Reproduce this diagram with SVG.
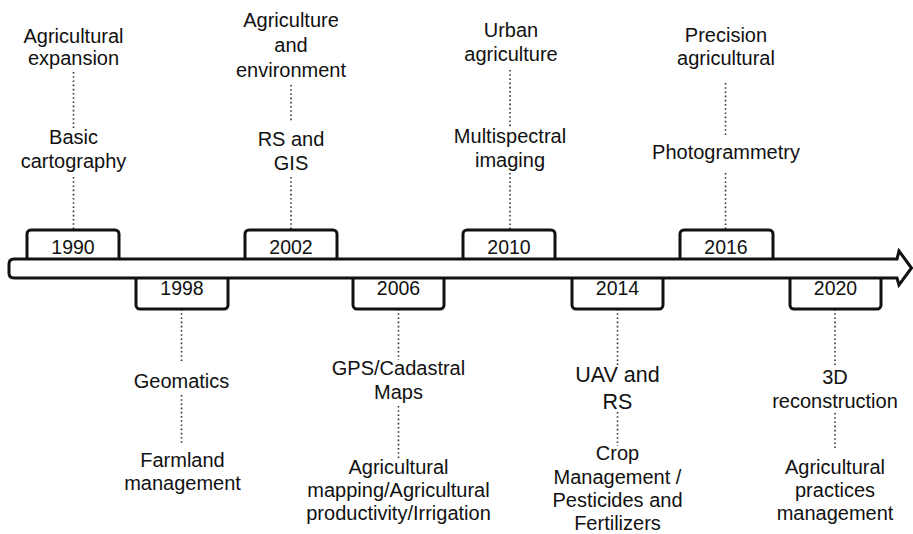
<svg xmlns="http://www.w3.org/2000/svg" width="913" height="534" viewBox="0 0 913 534">
<style>
  text { font-family: "Liberation Sans", Arial, sans-serif; font-size: 20px; fill: #111; text-anchor: middle; }
  .yr { font-size: 19.5px; }
  .big { font-size: 21.5px; }
  .box { fill: #fff; stroke: #111; stroke-width: 3; }
  .bar { fill: #fff; stroke: #111; stroke-width: 3; stroke-linejoin: miter; }
  .dot { stroke: #333; stroke-width: 1.6; stroke-dasharray: 1.6 2.6; fill: none; }
</style>
<rect width="913" height="534" fill="#fff"/>

<g id="connectors">
  <line class="dot" x1="73.5" y1="72" x2="73.5" y2="128"/>
  <line class="dot" x1="73.5" y1="177" x2="73.5" y2="230"/>
  <line class="dot" x1="291" y1="85" x2="291" y2="122"/>
  <line class="dot" x1="291" y1="177" x2="291" y2="230"/>
  <line class="dot" x1="510" y1="70" x2="510" y2="128"/>
  <line class="dot" x1="510" y1="173" x2="510" y2="230"/>
  <line class="dot" x1="725.5" y1="83" x2="725.5" y2="137"/>
  <line class="dot" x1="725.5" y1="173" x2="725.5" y2="230"/>
  <line class="dot" x1="181.5" y1="309" x2="181.5" y2="363"/>
  <line class="dot" x1="181.5" y1="395" x2="181.5" y2="445"/>
  <line class="dot" x1="398.5" y1="309" x2="398.5" y2="360"/>
  <line class="dot" x1="398.5" y1="406" x2="398.5" y2="458"/>
  <line class="dot" x1="617.5" y1="309" x2="617.5" y2="365"/>
  <line class="dot" x1="617.5" y1="412" x2="617.5" y2="446"/>
  <line class="dot" x1="835" y1="309" x2="835" y2="365"/>
  <line class="dot" x1="835" y1="413" x2="835" y2="448"/>
</g>

<g id="box-1990"><rect class="box" x="27" y="230" width="92" height="40" rx="4"/></g>
<g id="box-2002"><rect class="box" x="245" y="230" width="92" height="40" rx="4"/></g>
<g id="box-2010"><rect class="box" x="463" y="230" width="92" height="40" rx="4"/></g>
<g id="box-2016"><rect class="box" x="680" y="230" width="93" height="40" rx="4"/></g>
<g id="box-1998"><rect class="box" x="136" y="268" width="92" height="41" rx="4"/></g>
<g id="box-2006"><rect class="box" x="353" y="268" width="91" height="41" rx="4"/></g>
<g id="box-2014"><rect class="box" x="572" y="268" width="91" height="41" rx="4"/></g>
<g id="box-2020"><rect class="box" x="790" y="268" width="91" height="41" rx="4"/></g>

<g id="timeline-arrow">
  <path class="bar" d="M14,259 L897,259 L899,251 L911.5,268 L899,285 L897,278 L14,278 Q9,278 9,273 L9,264 Q9,259 14,259 Z"/>
</g>

<g id="year-1990"><text class="yr" x="73" y="254">1990</text></g>
<g id="year-2002"><text class="yr" x="291" y="254">2002</text></g>
<g id="year-2010"><text class="yr" x="509" y="254">2010</text></g>
<g id="year-2016"><text class="yr" x="726" y="254">2016</text></g>
<g id="year-1998"><text class="yr" x="182" y="295">1998</text></g>
<g id="year-2006"><text class="yr" x="398.5" y="295">2006</text></g>
<g id="year-2014"><text class="yr" x="617.5" y="295">2014</text></g>
<g id="year-2020"><text class="yr" x="835.5" y="295">2020</text></g>

<g id="agri-expansion"><text x="73.5" y="42.5">Agricultural</text><text x="73.5" y="65">expansion</text></g>
<g id="basic-cartography"><text x="73.5" y="144">Basic</text><text x="73.5" y="168">cartography</text></g>
<g id="agri-environment"><text x="291" y="27">Agriculture</text><text x="291" y="52">and</text><text x="291" y="77">environment</text></g>
<g id="rs-gis"><text x="291" y="145.5">RS and</text><text x="291" y="170">GIS</text></g>
<g id="urban-agri"><text x="511" y="36.5">Urban</text><text x="511" y="61">agriculture</text></g>
<g id="multispectral"><text x="510" y="143">Multispectral</text><text x="510" y="166.5">imaging</text></g>
<g id="precision-agri"><text x="726" y="41.5">Precision</text><text x="726" y="64.5">agricultural</text></g>
<g id="photogrammetry"><text x="726" y="158.5">Photogrammetry</text></g>

<g id="geomatics"><text x="181.5" y="387.5">Geomatics</text></g>
<g id="farmland"><text x="182.5" y="466.5">Farmland</text><text x="182.5" y="490">management</text></g>
<g id="gps-cadastral"><text x="398.5" y="375">GPS/Cadastral</text><text x="398.5" y="398.5">Maps</text></g>
<g id="agri-mapping"><text x="398.5" y="473.5">Agricultural</text><text x="398.5" y="497">mapping/Agricultural</text><text x="398.5" y="520">productivity/Irrigation</text></g>
<g id="uav-rs"><text class="big" x="617.5" y="382">UAV and</text><text class="big" x="617.5" y="409">RS</text></g>
<g id="crop-mgmt"><text x="617.5" y="460">Crop</text><text x="617.5" y="483.5">Management /</text><text x="617.5" y="507">Pesticides and</text><text x="617.5" y="529.5">Fertilizers</text></g>
<g id="reconstruction"><text x="835" y="383.5">3D</text><text x="835" y="407.5">reconstruction</text></g>
<g id="agri-practices"><text x="835" y="473.5">Agricultural</text><text x="835" y="497">practices</text><text x="835" y="520">management</text></g>
</svg>
